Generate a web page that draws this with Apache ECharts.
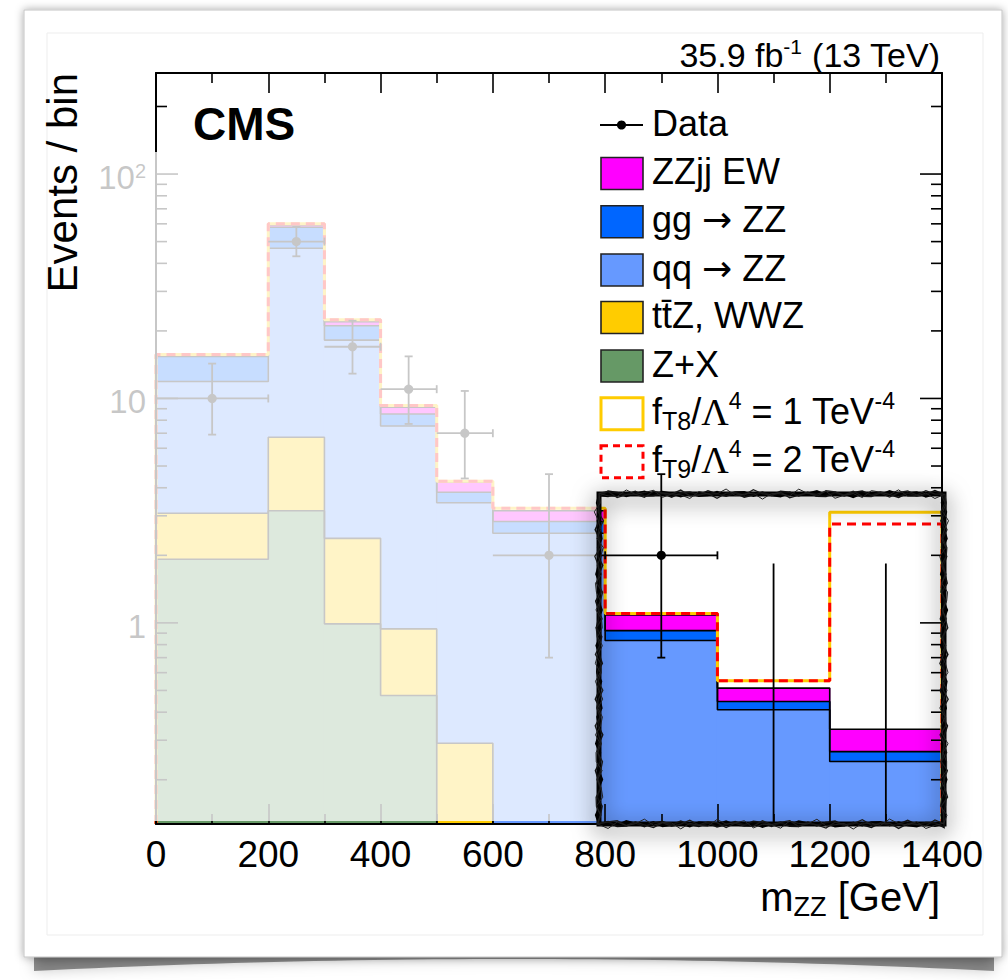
<!DOCTYPE html>
<html>
<head>
<meta charset="utf-8">
<script src="https://cdn.jsdelivr.net/npm/echarts@6/dist/echarts.min.js"></script>
<style>
  html, body { margin: 0; padding: 0; background: #fff; }
  #chart { width: 1008px; height: 980px; }
</style>
</head>
<body>
<div id="chart"></div>
<script>
// ---- m_ZZ distribution, events per bin ----
const FONT = '"Liberation Sans", Arial, Helvetica, sans-serif';
const SERIF = '"Liberation Serif", "Times New Roman", serif';
const SYMBOLS = '"DejaVu Sans", sans-serif';

const binEdges = [0, 200, 300, 400, 500, 600, 800, 1000, 1200, 1400];

// background contributions per bin (stacked bottom to top)
const zPlusX = [1.92, 3.16, 0.99, 0.475, 0, 0, 0, 0, 0];
const ttZWWZ = [1.16, 3.56, 1.39, 0.465, 0.291, 0, 0, 0, 0];
const qqZZ   = [8.82, 39.98, 15.82, 6.6, 3.14, 2.51, 0.834, 0.41, 0.241];
const ggZZ   = [3.5, 11.2, 2.9, 0.99, 0.39, 0.32, 0.09, 0.036, 0.026];
const zzjjEW = [0.15, 1.4, 0.9, 0.61, 0.41, 0.33, 0.161, 0.066, 0.069];

// anomalous-coupling predictions (total yield per bin)
const fT8 = [15.7, 60.0, 22.4, 9.3, 4.28, 3.24, 1.10, 0.552, 3.11];
const fT9 = [15.7, 60.0, 22.4, 9.3, 4.28, 3.24, 1.10, 0.552, 2.76];

// observed data with asymmetric uncertainties
const dataX       = [100, 250, 350, 450, 550, 700, 900, 1100, 1300];
const dataY       = [10, 50, 17, 11, 7, 2, 2, 0, 0];
const dataErrUp   = [4.3, 8.1, 5.2, 4.4, 3.8, 2.6, 2.6, 1.84, 1.84];
const dataErrDown = [3.1, 7.0, 4.1, 3.3, 2.6, 1.3, 1.3, 0, 0];

const yTickLabels = [1, 10, 100];
const xTickLabels = [0, 200, 400, 600, 800, 1000, 1200, 1400];
const Y_MIN = 0.127, Y_MAX = 282;

const COLORS = {
  ew: '#FF00FF', gg: '#0066FF', qq: '#6699FF', ttz: '#FFCC00', zx: '#669966',
  t8: '#FFCC00', t9: '#FF0000'
};

// cumulative stack, drawn from the top layer down
const components = [
  { name: 'Z+X', vals: zPlusX, color: COLORS.zx },
  { name: 'tt\u0304Z, WWZ', vals: ttZWWZ, color: COLORS.ttz },
  { name: 'qq \u2192 ZZ', vals: qqZZ, color: COLORS.qq },
  { name: 'gg \u2192 ZZ', vals: ggZZ, color: COLORS.gg },
  { name: 'ZZjj EW', vals: zzjjEW, color: COLORS.ew }
];
const cumulative = [];
components.forEach((c, k) => {
  cumulative.push(c.vals.map((v, i) => v + (k > 0 ? cumulative[k - 1][i] : 0)));
});

function stepPoints(vals) {
  const pts = [[binEdges[0], Y_MIN]];
  vals.forEach((v, i) => {
    const y = Math.max(v, Y_MIN);
    pts.push([binEdges[i], y], [binEdges[i + 1], y]);
  });
  pts.push([binEdges[binEdges.length - 1], Y_MIN]);
  return pts;
}

function fillRenderer(color) {
  return function (params, api) {
    const a = api.coord([api.value(0), api.value(2)]);
    const b = api.coord([api.value(1), Y_MIN]);
    // slight horizontal overlap so neighbouring bins join without seams
    return {
      type: 'rect',
      shape: { x: a[0] - 0.6, y: a[1], width: b[0] - a[0] + 1.2, height: b[1] - a[1] },
      style: { fill: color }
    };
  };
}

const series = [];
for (let k = components.length - 1; k >= 0; k--) {
  const c = components[k];
  const tops = cumulative[k];
  series.push({
    name: c.name,
    type: 'custom',
    renderItem: fillRenderer(c.color),
    data: tops.map((t, i) => [binEdges[i], binEdges[i + 1], t]).filter(d => d[2] > 0),
    encode: { x: [0, 1], y: 2 },
    silent: true,
    z: 2
  });
  series.push({
    name: c.name + ' outline',
    type: 'line',
    data: stepPoints(tops),
    symbol: 'none',
    lineStyle: { color: '#000', width: 1.6 },
    silent: true,
    z: 2
  });
}

series.push({
  name: 'fT8',
  type: 'line',
  data: stepPoints(fT8),
  symbol: 'none',
  lineStyle: { color: COLORS.t8, width: 3 },
  silent: true,
  z: 3
});
series.push({
  name: 'fT9',
  type: 'line',
  data: stepPoints(fT9),
  symbol: 'none',
  lineStyle: { color: COLORS.t9, width: 3, type: [9, 6] },
  silent: true,
  z: 3
});

// data points with error bars
const dataItems = dataX.map((x, i) => {
  const lo = dataY[i] - dataErrDown[i];
  return [x, dataY[i], lo > Y_MIN ? lo : Y_MIN, dataY[i] + dataErrUp[i], binEdges[i], binEdges[i + 1]];
});
series.push({
  name: 'Data',
  type: 'custom',
  data: dataItems,
  encode: { x: 0, y: 1 },
  z: 4,
  silent: true,
  clip: false,
  renderItem: function (params, api) {
    const x = api.value(0), y = api.value(1);
    const lo = api.value(2), hi = api.value(3);
    const pLo = api.coord([x, lo]), pHi = api.coord([x, hi]);
    const ls = { stroke: '#000', lineWidth: 1.8 };
    const children = [{ type: 'line', shape: { x1: pLo[0], y1: pLo[1], x2: pHi[0], y2: pHi[1] }, style: ls }];
    if (y > 0) {
      const c = api.coord([x, y]);
      const l = api.coord([api.value(4), y]), r = api.coord([api.value(5), y]);
      const cap = 4;
      children.push(
        { type: 'line', shape: { x1: l[0], y1: c[1], x2: r[0], y2: c[1] }, style: ls },
        { type: 'line', shape: { x1: pHi[0] - cap, y1: pHi[1], x2: pHi[0] + cap, y2: pHi[1] }, style: ls },
        { type: 'line', shape: { x1: pLo[0] - cap, y1: pLo[1], x2: pLo[0] + cap, y2: pLo[1] }, style: ls },
        { type: 'line', shape: { x1: r[0], y1: c[1] - cap, x2: r[0], y2: c[1] + cap }, style: ls },
        { type: 'circle', shape: { cx: c[0], cy: c[1], r: 4.6 }, style: { fill: '#000' } }
      );
    }
    return { type: 'group', children: children };
  }
});

// logarithmic tick marks on both vertical frame sides
const yTicks = [];
[0.1, 1, 10, 100].forEach(d => {
  for (let m = 1; m <= 9; m++) {
    const v = m * d;
    if (v >= Y_MIN && v <= Y_MAX) yTicks.push([0, v, m === 1 ? 1 : 0]);
  }
});
series.push({
  name: 'yTicks',
  type: 'custom',
  data: yTicks,
  encode: { x: 0, y: 1 },
  z: 5,
  silent: true,
  clip: false,
  renderItem: function (params, api) {
    const v = api.value(1);
    const len = api.value(2) ? 22 : 11;
    const l = api.coord([0, v]), r = api.coord([1400, v]);
    const ls = { stroke: '#000', lineWidth: 1.6 };
    return {
      type: 'group',
      children: [
        { type: 'line', shape: { x1: l[0], y1: l[1], x2: l[0] + len, y2: l[1] }, style: ls },
        { type: 'line', shape: { x1: r[0], y1: r[1], x2: r[0] - len, y2: r[1] }, style: ls }
      ]
    };
  }
});

// ---- decorative elements ----
const PLOT = { x0: 156, y0: 73, x1: 942, y1: 824 };
const BOX = { x0: 599, y0: 494, x1: 944, y1: 824 };

function sketchPoints(b, phase, amp) {
  const pts = [];
  const sides = [[b.x0, b.y0, b.x1, b.y0], [b.x1, b.y0, b.x1, b.y1], [b.x1, b.y1, b.x0, b.y1], [b.x0, b.y1, b.x0, b.y0]];
  let k = 0;
  sides.forEach(([ax, ay, bx, by]) => {
    const len = Math.hypot(bx - ax, by - ay);
    const n = Math.max(2, Math.round(len / 9));
    const nx = -(by - ay) / len, ny = (bx - ax) / len;
    for (let j = 0; j < n; j++) {
      const t = j / n;
      const off = amp * Math.sin(k * 2.3 + phase) + 0.6 * amp * Math.sin(k * 0.7 + phase * 1.9);
      pts.push([ax + (bx - ax) * t + nx * off, ay + (by - ay) * t + ny * off]);
      k++;
    }
  });
  pts.push(pts[0].slice());
  return pts;
}

const curlShadow = [];
for (let x = 34; x <= 994; x += 20) {
  const u = (x - 514) / 480;
  curlShadow.push([x, 959 + 12 * u * u]);
}
curlShadow.push([994, 940], [34, 940]);

function legendText(text, y, rich) {
  return {
    type: 'text', z: 70, silent: true,
    style: {
      x: 652, y: y - 2, text: text, fill: '#000',
      fontSize: 36, fontFamily: FONT,
      align: 'left', verticalAlign: 'middle',
      rich: rich
    }
  };
}
const legendRich = {
  t: { fontSize: 36, fontFamily: FONT, fill: '#000', lineHeight: 44 },
  g: { fontSize: 38, fontFamily: SERIF, fill: '#000', lineHeight: 44 },
  arr: { fontSize: 36, fontFamily: SYMBOLS, fill: '#000', lineHeight: 44 },
  sub: { fontSize: 25, fontFamily: FONT, fill: '#000', verticalAlign: 'bottom', lineHeight: 25 },
  sup: { fontSize: 23, fontFamily: FONT, fill: '#000', verticalAlign: 'top', lineHeight: 23 }
};
const legendRows = [
  { y: 125, label: 'Data', kind: 'data' },
  { y: 173.5, label: 'ZZjj EW', fill: COLORS.ew },
  { y: 221.7, label: '{t|gg }{arr|\u2192}{t| ZZ}', fill: COLORS.gg },
  { y: 270, label: '{t|qq }{arr|\u2192}{t| ZZ}', fill: COLORS.qq },
  { y: 317.5, label: 'tt\u0304Z, WWZ', fill: COLORS.ttz },
  { y: 366, label: 'Z+X', fill: COLORS.zx },
  { y: 413.7, label: '{t|f}{sub|T8}{t|/}{g|\u039B}{sup|4}{t| = 1 TeV}{sup|-4}', fill: '#fff', stroke: COLORS.t8 },
  { y: 461.7, label: '{t|f}{sub|T9}{t|/}{g|\u039B}{sup|4}{t| = 2 TeV}{sup|-4}', fill: '#fff', stroke: COLORS.t9, dashed: true }
];
const legendEls = [];
legendRows.forEach(r => {
  if (r.kind === 'data') {
    legendEls.push(
      { type: 'line', z: 70, silent: true, shape: { x1: 600, y1: r.y, x2: 643, y2: r.y }, style: { stroke: '#000', lineWidth: 1.8 } },
      { type: 'circle', z: 70, silent: true, shape: { cx: 621.5, cy: r.y, r: 4.6 }, style: { fill: '#000' } }
    );
  } else {
    legendEls.push({
      type: 'rect', z: 70, silent: true,
      shape: { x: 601, y: r.y - 16, width: 42, height: 32 },
      style: {
        fill: r.fill,
        stroke: r.stroke || '#222',
        lineWidth: r.stroke ? 3 : 1.6,
        lineDash: r.dashed ? [7, 5] : null
      }
    });
  }
  legendEls.push(legendText(r.label, r.y, legendRich));
});

const graphicEls = [
  // card with curled shadow underneath
  { type: 'polygon', z: -20, silent: true, shape: { points: curlShadow },
    style: { fill: 'rgba(0,0,0,0.42)', shadowBlur: 14, shadowColor: 'rgba(0,0,0,0.5)' } },
  { type: 'rect', z: -10, silent: true, shape: { x: 24, y: 10, width: 978, height: 947 },
    style: { fill: '#fff', stroke: '#c4c4c4', lineWidth: 1, shadowBlur: 8, shadowColor: 'rgba(0,0,0,0.35)' } },
  { type: 'rect', z: -9, silent: true, shape: { x: 47, y: 33, width: 936, height: 902 },
    style: { fill: 'none', stroke: '#ededed', lineWidth: 1 } },

  // haze over the lower-mass part of the plot
  { type: 'rect', z: 50, silent: true, shape: { x: 88, y: 152, width: 511, height: 669 },
    style: { fill: 'rgba(255,255,255,0.78)' } },

  // hand-drawn frame around the high-mass bins
  { type: 'rect', z: 60, silent: true, shape: { x: BOX.x0, y: BOX.y0, width: BOX.x1 - BOX.x0, height: BOX.y1 - BOX.y0 },
    style: { fill: 'none', stroke: '#000', lineWidth: 5, shadowBlur: 22, shadowOffsetY: 5, shadowColor: 'rgba(0,0,0,0.7)' } },
  { type: 'polyline', z: 61, silent: true, shape: { points: sketchPoints(BOX, 0.3, 2.0) }, style: { stroke: '#000', lineWidth: 2, fill: null } },
  { type: 'polyline', z: 61, silent: true, shape: { points: sketchPoints(BOX, 1.7, 2.4) }, style: { stroke: '#111', lineWidth: 1.6, fill: null } },
  { type: 'polyline', z: 61, silent: true, shape: { points: sketchPoints(BOX, 2.9, 2.8) }, style: { stroke: '#1a1a1a', lineWidth: 1.3, fill: null } },
  { type: 'polyline', z: 61, silent: true, shape: { points: sketchPoints(BOX, 4.1, 3.2) }, style: { stroke: '#222', lineWidth: 1, fill: null } },

  // titles
  { type: 'text', z: 70, silent: true,
    style: { x: 940, y: 55, text: '{t|35.9 fb}{sup|-1}{t| (13 TeV)}', align: 'right', verticalAlign: 'middle',
      fontSize: 34, fontFamily: FONT, fill: '#000',
      rich: { t: { fontSize: 34, fontFamily: FONT, fill: '#000', lineHeight: 38 },
              sup: { fontSize: 21, fontFamily: FONT, fill: '#000', verticalAlign: 'top', lineHeight: 21 } } } },
  { type: 'text', z: 70, silent: true,
    style: { x: 193, y: 124, text: 'CMS', align: 'left', verticalAlign: 'middle',
      fontSize: 46, fontWeight: 'bold', fontFamily: FONT, fill: '#000' } },
  { type: 'text', z: 70, silent: true, x: 62, y: 73, rotation: Math.PI / 2,
    style: { x: 0, y: 0, text: 'Events / bin', align: 'right', verticalAlign: 'middle',
      fontSize: 42, fontFamily: FONT, fill: '#000' } },
  { type: 'text', z: 70, silent: true,
    style: { x: 940, y: 897, text: '{t|m}{sub|ZZ}{t| [GeV]}', align: 'right', verticalAlign: 'middle',
      fontSize: 40, fontFamily: FONT, fill: '#000',
      rich: { t: { fontSize: 40, fontFamily: FONT, fill: '#000', lineHeight: 46 },
              sub: { fontSize: 27, fontFamily: FONT, fill: '#000', verticalAlign: 'bottom', lineHeight: 27 } } } }
].concat(legendEls);

const xAxisCommon = {
  type: 'value', min: 0, max: 1400, interval: 200,
  splitLine: { show: false },
  axisLine: { show: true, onZero: false, lineStyle: { color: '#000', width: 2 } },
  axisTick: { show: true, inside: true, length: 20, lineStyle: { color: '#000', width: 1.6 } },
  minorTick: { show: true, splitNumber: 2, length: 10, lineStyle: { color: '#000', width: 1.6 } },
  z: 6
};
const yAxisCommon = {
  type: 'log', logBase: 10, min: Y_MIN, max: Y_MAX,
  splitLine: { show: false },
  minorSplitLine: { show: false },
  axisLine: { show: true, onZero: false, lineStyle: { color: '#000', width: 2 } },
  axisTick: { show: false },
  z: 6
};

const option = {
  animation: false,
  backgroundColor: '#fff',
  grid: { left: PLOT.x0, right: 1008 - PLOT.x1, top: PLOT.y0, bottom: 980 - PLOT.y1, outerBoundsMode: 'none', containLabel: false },
  xAxis: [
    Object.assign({}, xAxisCommon, {
      position: 'bottom',
      axisLabel: {
        show: true, margin: 12, color: '#000', fontSize: 37, fontFamily: FONT,
        formatter: v => (xTickLabels.indexOf(v) >= 0 ? String(v) : '')
      }
    }),
    Object.assign({}, xAxisCommon, { position: 'top', axisLabel: { show: false } })
  ],
  yAxis: [
    Object.assign({}, yAxisCommon, {
      position: 'left',
      axisLabel: {
        show: true, margin: 10, color: '#000', fontFamily: FONT, fontSize: 33,
        padding: [7, 0, 0, 0],
        formatter: v => {
          const hit = yTickLabels.find(t => Math.abs(t - v) / t < 1e-6);
          if (hit === undefined) return '';
          const p = Math.round(Math.log10(hit));
          return p >= 2 ? '{a|10}{s|' + p + '}' : '{a|' + hit + '}';
        },
        rich: {
          a: { fontSize: 33, fontFamily: FONT, color: '#000', lineHeight: 34 },
          s: { fontSize: 20, fontFamily: FONT, color: '#000', verticalAlign: 'top', lineHeight: 20 }
        }
      }
    }),
    Object.assign({}, yAxisCommon, { position: 'right', axisLabel: { show: false } })
  ],
  series: series,
  graphic: { elements: graphicEls }
};

const chart = echarts.init(document.getElementById('chart'), null, { renderer: 'svg', width: 1008, height: 980 });
chart.setOption(option);
</script>
</body>
</html>
